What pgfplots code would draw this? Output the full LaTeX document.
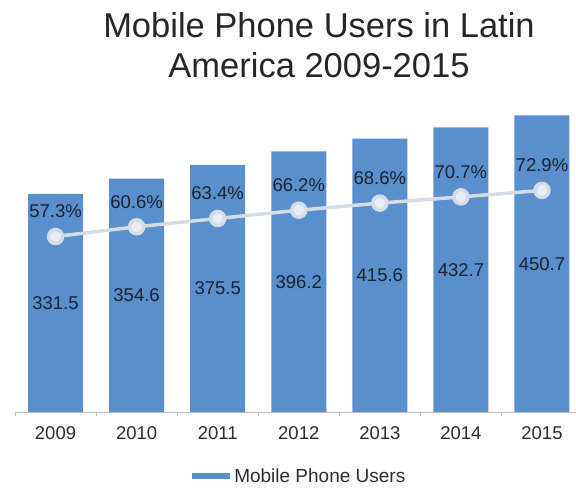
\documentclass[border=0pt]{standalone}
\usepackage{fontspec}
\setmainfont{Liberation Sans}
\usepackage{pgfplots}
\pgfplotsset{compat=1.18}
\definecolor{barblue}{RGB}{88,143,204}
\definecolor{linegray}{RGB}{214,220,228}
\definecolor{markfill}{RGB}{230,237,247}
\definecolor{axgray}{RGB}{190,190,190}
\definecolor{txt}{RGB}{45,45,45}
\definecolor{lbl}{RGB}{28,34,48}
\begin{document}
\begin{tikzpicture}[x=1bp,y=1bp]
\useasboundingbox (0,0) rectangle (576,489);
\node[anchor=base, font=\fontsize{34.5bp}{40bp}\selectfont, text=black!85, inner sep=0pt] at (319,451) {Mobile Phone Users in Latin};
\node[anchor=base, font=\fontsize{34.5bp}{40bp}\selectfont, text=black!85, inner sep=0pt] at (319,411) {America 2009-2015};
\begin{axis}[
  /pgf/number format/assume math mode=true,
  at={(15bp,77bp)}, anchor=south west, scale only axis,
  width=567.5bp, height=329bp,
  xmin=-0.5, xmax=6.5, ymin=0, ymax=500,
  axis y line=none, axis x line*=bottom,
  axis line style={-, axgray, line width=0.8bp},
  xtick={0,...,6}, xticklabels={2009,2010,2011,2012,2013,2014,2015},
  major tick length=0pt,
  extra x ticks={-0.5,0.5,1.5,2.5,3.5,4.5,5.5,6.5}, extra x tick labels={},
  extra x tick style={major tick length=4bp, tick align=outside, tick style={axgray, line width=0.8bp}},
  xticklabel style={font=\fontsize{18.5bp}{21bp}\selectfont, text=txt, anchor=base, yshift=-27.5bp, inner sep=0pt},
  ybar, bar width=55bp,
  clip=false,
  legend style={at={(0.312,-0.1945)}, anchor=west, draw=none, fill=none, inner sep=0pt,
    font=\fontsize{19bp}{21bp}\selectfont, text=txt},
]
\addplot[fill=barblue, draw=none,
  legend image code/.code={\fill[barblue] (0bp,-3bp) rectangle (38bp,3bp);},
  visualization depends on=y \as \rawy,
  nodes near coords={\pgfmathprintnumber[fixed,fixed zerofill,precision=1]{\pgfplotspointmeta}},
  every node near coord/.append style={font=\fontsize{18.5bp}{21bp}\selectfont, text=lbl, anchor=center, inner sep=0pt,
     shift={(axis direction cs:0,-\rawy/2)}},
] coordinates {(0,331.5) (1,354.6) (2,375.5) (3,396.2) (4,415.6) (5,432.7) (6,450.7)};
\addlegendentry{\hspace{2bp}Mobile Phone Users}
\end{axis}
\begin{axis}[
  /pgf/number format/assume math mode=true,
  at={(15bp,77bp)}, anchor=south west, scale only axis,
  width=567.5bp, height=329bp,
  xmin=-0.5, xmax=6.5, ymin=-2, ymax=109.2,
  hide axis, clip=false,
]
\addplot[linegray, line width=3.5bp, mark=*, mark size=7bp, mark options={fill=markfill, draw=none},
  nodes near coords={\pgfmathprintnumber[fixed,fixed zerofill,precision=1]{\pgfplotspointmeta}\%},
  every node near coord/.append style={font=\fontsize{18.5bp}{21bp}\selectfont, text=lbl, anchor=center, inner sep=0pt, yshift=25bp},
] coordinates {(0,57.3) (1,60.6) (2,63.4) (3,66.2) (4,68.6) (5,70.7) (6,72.9)};
\end{axis}
\end{tikzpicture}
\end{document}
